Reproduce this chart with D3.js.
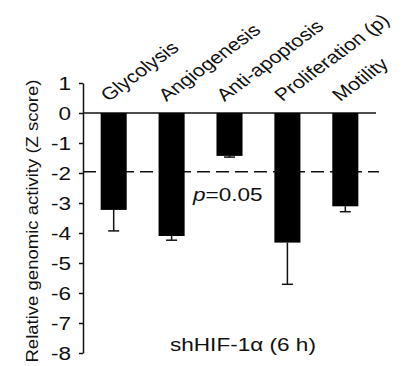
<!DOCTYPE html>
<html>
<head>
<meta charset="utf-8">
<script src="https://cdn.jsdelivr.net/npm/d3@7"></script>
<style>
  body { margin: 0; background: #fff; }
  text { font-family: "Liberation Sans", Arial, sans-serif; fill: #111; }
</style>
</head>
<body>
<svg id="chart" width="406" height="366"></svg>
<script>
// data
var categories = ["Glycolysis", "Angiogenesis", "Anti-apoptosis", "Proliferation (p)", "Motility"];
var zScores = [-3.23, -4.10, -1.43, -4.32, -3.11];
var errors = [0.70, 0.14, 0.04, 1.39, 0.18];
var yTicks = [1, 0, -1, -2, -3, -4, -5, -6, -7, -8];
var pLine = -1.96;

var sx = 1.22; // picture is stretched horizontally
var fs = 18.5;

var svg = d3.select("#chart");

var x = d3.scaleBand().domain(categories).range([83, 376]).paddingInner(0.55).paddingOuter(0.305);
var y = d3.scaleLinear().domain([1, -8]).range([83, 353]);

// stretched text helper
function stext(g, tx, ty, rot, str, anchor, size) {
  var t = g.append("g")
    .attr("transform", "translate(" + tx + "," + ty + ") scale(" + sx + ",1) rotate(" + rot + ")")
    .append("text")
    .attr("font-size", size || fs)
    .attr("text-anchor", anchor || "start")
    .text(str);
  return t;
}

// y axis
var yAxis = d3.axisLeft(y).tickValues(yTicks).tickSize(4).tickSizeOuter(0).tickFormat(function(d){ return String(d); });
var ga = svg.append("g").attr("transform", "translate(83,0)").call(yAxis);
ga.select(".domain").attr("stroke", "#111").attr("stroke-width", 1.5);
ga.selectAll(".tick line").attr("stroke", "#111").attr("stroke-width", 1.5);
ga.selectAll(".tick text").remove();
yTicks.forEach(function(d){
  stext(svg, 71, y(d) + 6.5, 0, String(d), "end");
});

// p = 0.05 dashed line
svg.append("line")
  .attr("x1", 83).attr("x2", 379)
  .attr("y1", y(pLine)).attr("y2", y(pLine))
  .attr("stroke", "#111").attr("stroke-width", 1.5)
  .attr("stroke-dasharray", "13,6");

// zero line
svg.append("line")
  .attr("x1", x.range()[0]).attr("x2", x.range()[1])
  .attr("y1", y(0)).attr("y2", y(0))
  .attr("stroke", "#111").attr("stroke-width", 1.5);

// bars
svg.selectAll("rect.bar")
  .data(categories).enter()
  .append("rect")
  .attr("class", "bar")
  .attr("x", function(d){ return x(d); })
  .attr("y", y(0))
  .attr("width", x.bandwidth())
  .attr("height", function(d, i){ return y(zScores[i]) - y(0); })
  .attr("fill", "#000");

// error bars
var eb = svg.selectAll("g.err")
  .data(categories).enter()
  .append("g").attr("class", "err")
  .attr("stroke", "#111").attr("stroke-width", 1.5);
eb.append("line")
  .attr("x1", function(d){ return x(d) + x.bandwidth() / 2; })
  .attr("x2", function(d){ return x(d) + x.bandwidth() / 2; })
  .attr("y1", function(d, i){ return y(zScores[i]); })
  .attr("y2", function(d, i){ return y(zScores[i] - errors[i]); });
eb.append("line")
  .attr("x1", function(d){ return x(d) + x.bandwidth() / 2 - 5.5; })
  .attr("x2", function(d){ return x(d) + x.bandwidth() / 2 + 5.5; })
  .attr("y1", function(d, i){ return y(zScores[i] - errors[i]); })
  .attr("y2", function(d, i){ return y(zScores[i] - errors[i]); });

// category labels
categories.forEach(function(c){
  stext(svg, x(c) + x.bandwidth() / 2 - 5, 102, -42, c, "start", 17.5);
});

// p value label
var pt = svg.append("g")
  .attr("transform", "translate(193,201) scale(" + sx + ",1)")
  .append("text").attr("font-size", fs);
pt.append("tspan").attr("font-style", "italic").text("p");
pt.append("tspan").text("=0.05");

// condition label
stext(svg, 170, 351, 0, "shHIF-1\u03b1 (6 h)", "start");

// y axis title
svg.append("text")
  .attr("transform", "translate(37.5,221) rotate(-90)")
  .attr("text-anchor", "middle")
  .attr("font-size", 16.5)
  .attr("textLength", 283)
  .attr("lengthAdjust", "spacingAndGlyphs")
  .text("Relative genomic activity (Z score)");
</script>
</body>
</html>
